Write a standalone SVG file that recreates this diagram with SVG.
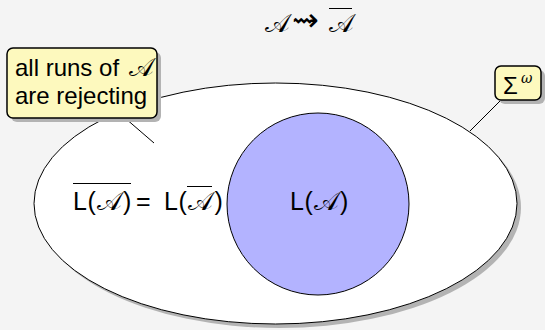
<svg xmlns="http://www.w3.org/2000/svg" width="545" height="330" viewBox="0 0 545 330">
  <style>
    .t { font-family: "Liberation Sans", Arial, sans-serif; fill: #000; font-size: 25px; }
    .m { font-family: "DejaVu Serif", "DejaVu Sans", serif; font-size: 26px; }
    .line { stroke: #000; stroke-width: 1; fill: none; }
    .shadow { fill: #b3b3b3; }
    .note { fill: #fdf9be; stroke: #000; stroke-width: 1.5; }
  </style>
  <rect x="0" y="0" width="545" height="330" fill="#f4f4f4"/>

  <g id="title">
    <text class="t" y="32"><tspan class="m" x="265">𝒜</tspan><tspan x="292" y="31" font-family="DejaVu Sans, sans-serif" style="font-size:32px">⇝</tspan><tspan class="m" x="329" y="32">𝒜</tspan></text>
    <line x1="329" y1="8.5" x2="352" y2="8.5" class="line"/>
  </g>

  <g id="sigma-omega-set">
    <ellipse cx="279.5" cy="207.5" rx="241.5" ry="120.5" class="shadow"/>
    <ellipse cx="275.5" cy="203.5" rx="241.5" ry="120.5" fill="#fff" stroke="#000" stroke-width="1"/>
  </g>

  <g id="complement-label">
    <text class="t" y="210"><tspan x="73">L</tspan><tspan x="87.5">(</tspan><tspan class="m" x="97">𝒜</tspan><tspan x="123">)</tspan><tspan x="136">=</tspan><tspan x="164">L</tspan><tspan x="178.5">(</tspan><tspan class="m" x="188">𝒜</tspan><tspan x="214.5">)</tspan></text>
    <line x1="73" y1="183.5" x2="131" y2="183.5" class="line"/>
    <line x1="187" y1="186.5" x2="212" y2="186.5" class="line"/>
  </g>

  <g id="language">
    <circle cx="318" cy="204" r="91" fill="#b3b3ff" stroke="#000" stroke-width="1"/>
    <text class="t" y="210"><tspan x="290">L</tspan><tspan x="304.5">(</tspan><tspan class="m" x="314">𝒜</tspan><tspan x="340">)</tspan></text>
  </g>

  <g id="connectors">
    <line x1="125" y1="118" x2="154" y2="143" class="line"/>
    <line x1="502" y1="99" x2="470" y2="131" class="line"/>
  </g>

  <g id="note-rejecting">
    <rect x="11" y="52" width="150" height="70" rx="6" class="shadow"/>
    <rect x="7" y="48" width="150" height="70" rx="6" class="note"/>
    <text class="t" x="15" y="76" style="font-size:24px">all runs of <tspan class="m" x="129">𝒜</tspan></text>
    <text class="t" x="15" y="104" style="font-size:24px">are rejecting</text>
  </g>

  <g id="note-sigma">
    <rect x="499" y="70" width="46" height="34" rx="6" class="shadow"/>
    <rect x="495" y="66" width="46" height="34" rx="6" class="note"/>
    <text class="t" x="503" y="94" style="font-size:24px">Σ<tspan x="521" y="83" font-family="DejaVu Serif, serif" font-style="italic" style="font-size:14px">ω</tspan></text>
  </g>
</svg>
